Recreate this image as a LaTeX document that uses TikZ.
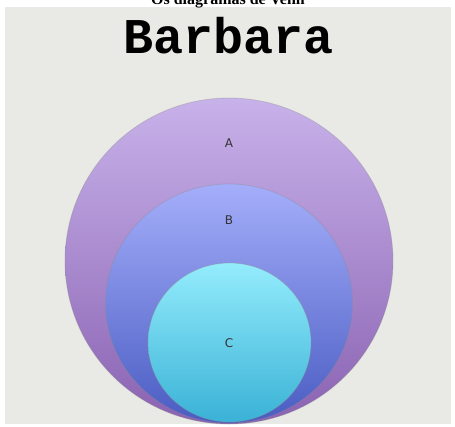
\documentclass[tikz,border=0pt]{standalone}
\usepackage{fontspec}
\usetikzlibrary{shapes.geometric}
\setmainfont{Liberation Serif}
\setmonofont{Liberation Mono}
\newfontfamily\labelfont{DejaVu Sans}
\begin{document}
\begin{tikzpicture}[x=1pt,y=-1pt,
  setbox/.style={ellipse,inner sep=0pt,draw=black!45,draw opacity=0.35,line width=0.8pt},
  setlabel/.style={font=\labelfont\fontsize{12}{14}\selectfont,text=black!80}]
\useasboundingbox (0,0) rectangle (455,426);
\definecolor{bgc}{HTML}{E9E9E5}
\definecolor{atop}{HTML}{C8B2EA}
\definecolor{abot}{HTML}{8A62B2}
\definecolor{btop}{HTML}{A4AEFA}
\definecolor{bbot}{HTML}{4A5CC2}
\definecolor{ctop}{HTML}{94ECFC}
\definecolor{cbot}{HTML}{3AB2D6}
\fill[bgc] (5,7) rectangle (451,424);
\node[font=\bfseries\fontsize{16}{18}\selectfont,anchor=base] (top) at (228,4) {Os diagramas de Venn};
\node[font=\ttfamily\bfseries\fontsize{50}{52}\selectfont,anchor=base] (title) at (229,53) {Barbara};
\node[setbox,minimum width=328pt,minimum height=326pt,top color=atop,bottom color=abot] (A) at (229,261) {};
\node[setbox,minimum width=247pt,minimum height=239pt,top color=btop,bottom color=bbot] (B) at (229,303.5) {};
\node[setbox,minimum width=163pt,minimum height=159pt,top color=ctop,bottom color=cbot] (C) at (229.5,342.5) {};
\node[setlabel] (la) at (229,143) {A};
\node[setlabel] (lb) at (229,220) {B};
\node[setlabel] (lc) at (229,343) {C};
\end{tikzpicture}
\end{document}
